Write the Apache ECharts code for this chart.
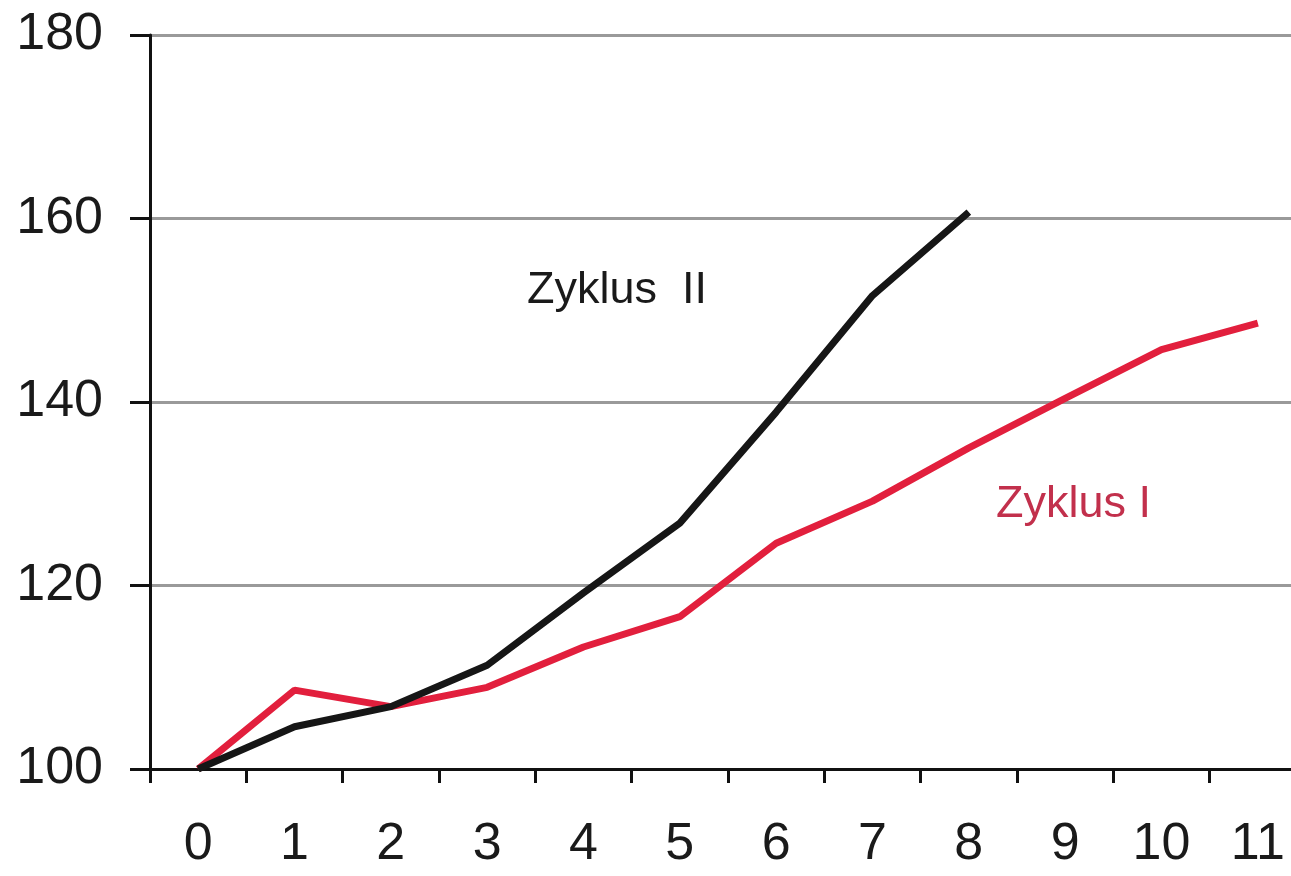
<!DOCTYPE html>
<html>
<head>
<meta charset="utf-8">
<script src="https://cdn.jsdelivr.net/npm/echarts@6/dist/echarts.min.js"></script>
<style>
  html, body { margin: 0; padding: 0; background: #fff; }
  #chart { width: 1291px; height: 876px; }
</style>
</head>
<body>
<div id="chart"></div>
<script>
// Daten
const categories = ['0', '1', '2', '3', '4', '5', '6', '7', '8', '9', '10', '11']
const zyklusI = [100, 108.6, 106.8, 108.9, 113.3, 116.6, 124.6, 129.2, 135.0, 140.4, 145.7, 148.6]
const zyklusII = [100, 104.6, 106.8, 111.3, 119.2, 126.8, 138.9, 151.6, 160.7]
const yTicks = { min: 100, max: 180, interval: 20 }

const font = '"Liberation Sans", Arial, sans-serif'
let myChart = echarts.init(document.getElementById('chart'))
let option = {
  animation: false,
  // Achse läuft rechts etwas über den Bildrand hinaus
  grid: { left: 150, width: 1156, top: 35, bottom: 107, outerBoundsMode: 'none', containLabel: false },
  xAxis: {
    type: 'category',
    data: categories,
    boundaryGap: true,
    axisLine: { lineStyle: { color: '#111', width: 3 } },
    axisTick: { show: true, length: 14, lineStyle: { color: '#111', width: 3 } },
    axisLabel: { color: '#1a1a1a', fontSize: 52, fontFamily: font, margin: 50 },
    splitLine: { show: false }
  },
  yAxis: {
    type: 'value',
    min: yTicks.min,
    max: yTicks.max,
    interval: yTicks.interval,
    axisLine: { show: true, lineStyle: { color: '#111', width: 3 } },
    axisTick: { show: true, length: 20, lineStyle: { color: '#111', width: 3 } },
    axisLabel: { color: '#1a1a1a', fontSize: 52, fontFamily: font, margin: 47 },
    splitLine: { show: true, lineStyle: { color: '#9a9a9a', width: 3 } }
  },
  series: [
    {
      name: 'Zyklus I',
      type: 'line',
      data: zyklusI,
      symbol: 'none',
      lineStyle: { color: '#e21f3d', width: 7 },
      z: 2
    },
    {
      name: 'Zyklus II',
      type: 'line',
      data: zyklusII,
      symbol: 'none',
      lineStyle: { color: '#161616', width: 7 },
      z: 3
    }
  ],
  graphic: [
    {
      type: 'text',
      left: 527,
      top: 268,
      style: { text: 'Zyklus  II', fill: '#1a1a1a', font: '45px ' + font }
    },
    {
      type: 'text',
      left: 996,
      top: 482,
      style: { text: 'Zyklus I', fill: '#c2304c', font: '45px ' + font }
    }
  ]
}
myChart.setOption(option)
</script>
</body>
</html>
